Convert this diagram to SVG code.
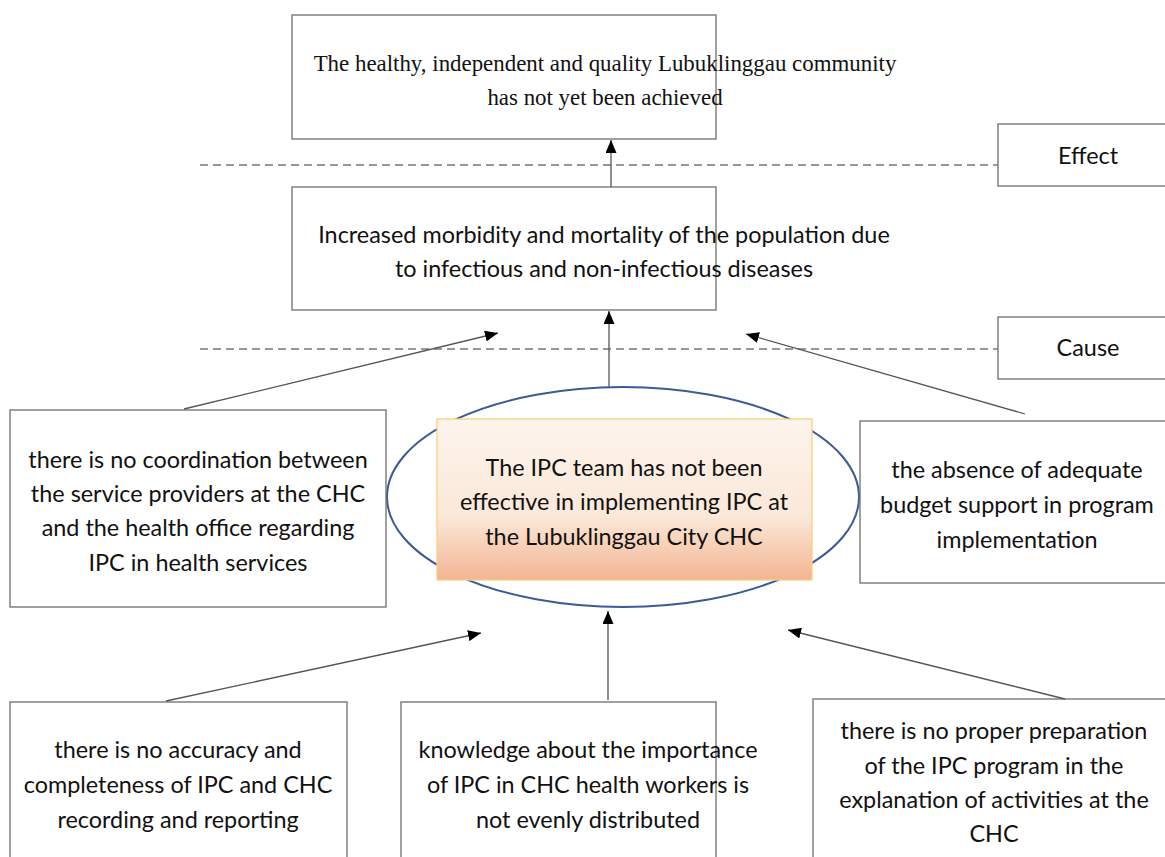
<svg xmlns="http://www.w3.org/2000/svg" width="1165" height="857" viewBox="0 0 1165 857">
<style>
.box{fill:#fff;stroke:#6e6e6e;stroke-width:1.3}
.t{font-family:Lato,"Open Sans",sans-serif;font-size:23.4px;fill:#111;text-anchor:middle}
.s{font-family:"Liberation Serif","Times New Roman",serif;font-size:22.9px;fill:#111;text-anchor:middle}
.c{stroke:#555;stroke-width:1.3;fill:none}
.d{stroke:#777;stroke-width:1.3;stroke-dasharray:8 5;fill:none}
</style>
<defs>
<marker id="ah" viewBox="0 0 13 11" refX="13" refY="5.5" markerWidth="13" markerHeight="11" markerUnits="userSpaceOnUse" orient="auto">
<path d="M0,0 L13,5.5 L0,11 Z" fill="#000"/>
</marker>
<linearGradient id="g" x1="0" y1="0" x2="0" y2="1">
<stop offset="0" stop-color="#fdf4ec"/>
<stop offset="0.6" stop-color="#fbe8d9"/>
<stop offset="1" stop-color="#f3b592"/>
</linearGradient>
</defs>
<g id="guides">
<line class="d" x1="200" y1="165" x2="998" y2="165"/>
<line class="d" x1="200" y1="349" x2="998" y2="349"/>
</g>
<g id="goal">
<rect class="box" x="292" y="15" width="424" height="124"/>
<text class="s" x="605" y="71">The healthy, independent and quality Lubuklinggau community</text>
<text class="s" x="605" y="105">has not yet been achieved</text>
</g>
<g id="effect-label">
<rect class="box" x="998" y="124" width="170" height="62"/>
<text class="t" x="1088" y="164">Effect</text>
</g>
<g id="cause-label">
<rect class="box" x="998" y="317" width="170" height="62"/>
<text class="t" x="1088" y="356">Cause</text>
</g>
<g id="effect">
<rect class="box" x="292" y="187" width="424" height="123"/>
<text class="t" x="604" y="243">Increased morbidity and mortality of the population due</text>
<text class="t" x="604" y="277">to infectious and non-infectious diseases</text>
</g>
<g id="problem">
<ellipse cx="623" cy="497" rx="236" ry="110" fill="#fff" stroke="#3c5a96" stroke-width="2"/>
<rect x="437" y="419" width="375" height="161" fill="url(#g)" stroke="#f7d27d" stroke-width="1.3"/>
<text class="t" x="624" y="476">The IPC team has not been</text>
<text class="t" x="624" y="510">effective in implementing IPC at</text>
<text class="t" x="624" y="545">the Lubuklinggau City CHC</text>
</g>
<g id="cause-left">
<rect class="box" x="10" y="410" width="376" height="197"/>
<text class="t" x="198" y="468">there is no coordination between</text>
<text class="t" x="198" y="502">the service providers at the CHC</text>
<text class="t" x="198" y="536">and the health office regarding</text>
<text class="t" x="198" y="571">IPC in health services</text>
</g>
<g id="cause-right">
<rect class="box" x="860" y="421" width="310" height="162"/>
<text class="t" x="1017" y="478">the absence of adequate</text>
<text class="t" x="1017" y="513">budget support in program</text>
<text class="t" x="1017" y="548">implementation</text>
</g>
<g id="cause-bl">
<rect class="box" x="10" y="702" width="337" height="160"/>
<text class="t" x="178" y="758">there is no accuracy and</text>
<text class="t" x="178" y="793">completeness of IPC and CHC</text>
<text class="t" x="178" y="828">recording and reporting</text>
</g>
<g id="cause-bm">
<rect class="box" x="401" y="702" width="315" height="160"/>
<text class="t" x="588" y="758">knowledge about the importance</text>
<text class="t" x="588" y="793">of IPC in CHC health workers is</text>
<text class="t" x="588" y="828">not evenly distributed</text>
</g>
<g id="cause-br">
<rect class="box" x="813" y="699" width="357" height="163"/>
<text class="t" x="994" y="739">there is no proper preparation</text>
<text class="t" x="994" y="774">of the IPC program in the</text>
<text class="t" x="994" y="808">explanation of activities at the</text>
<text class="t" x="994" y="842">CHC</text>
</g>
<g id="connectors">
<line class="c" x1="611" y1="187" x2="611" y2="140" marker-end="url(#ah)"/>
<line class="c" x1="609" y1="387" x2="609" y2="311" marker-end="url(#ah)"/>
<line class="c" x1="184" y1="409" x2="498" y2="333" marker-end="url(#ah)"/>
<line class="c" x1="1025" y1="414" x2="746" y2="334" marker-end="url(#ah)"/>
<line class="c" x1="166" y1="701" x2="481" y2="633" marker-end="url(#ah)"/>
<line class="c" x1="608" y1="700" x2="608" y2="611" marker-end="url(#ah)"/>
<line class="c" x1="1065" y1="699" x2="788" y2="630" marker-end="url(#ah)"/>
</g>
</svg>
